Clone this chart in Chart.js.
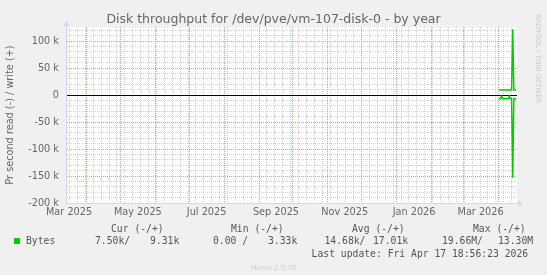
<!DOCTYPE html>
<html>
<head>
<meta charset="utf-8">
<script src="https://cdn.jsdelivr.net/npm/chart.js@4.4.1/dist/chart.umd.min.js"></script>
<style>
  html, body { margin: 0; padding: 0; background: #f0f0f0; }
  #wrap { position: relative; width: 547px; height: 275px; overflow: hidden; }
  canvas { display: block; }
  .t { position: absolute; white-space: pre; font-family: 'DejaVu Sans Mono', monospace; font-size: 9.72px; line-height: 12px; color: #555; }
  .wm { position: absolute; white-space: pre; font-family: 'DejaVu Sans', sans-serif; font-size: 6.94px; line-height: 8px; color: #c8c8c8; }
</style>
</head>
<body>
<div id="wrap">
  <canvas id="c" width="547" height="275"></canvas>
</div>
<script>
// ---------------- DATA ----------------
const rangeStart = '2025-03-13T18:56:23Z';
const rangeEnd   = '2026-04-17T18:56:23Z';

const dates = ['2026-04-02','2026-04-03','2026-04-04','2026-04-05','2026-04-06','2026-04-07','2026-04-08','2026-04-09',
               '2026-04-10','2026-04-11','2026-04-12','2026-04-13','2026-04-14','2026-04-15','2026-04-16','2026-04-17'];
// write (+), bytes per second
const writeBytes = [9300, 9300, 9300, 9300, 9300, 9300, 9300, 9300, 9300, 9300, 9300, 9300, 122000, 9300, 9300, 9310];
// read (-), plotted below zero
const readBytes = [-7000, -7000, -2000, -7000, -7000, -7000, -7000, -7000, -7000, -2000, -7000, -7000, -153000, -7000, -7000, -7500];

const yTickValues = [100000, 50000, 0, -50000, -100000, -150000, -200000];
const yTickLabels = ['100 k', '50 k', '0', '-50 k', '-100 k', '-150 k', '-200 k'];
const xLabelMonths = ['2025-03', '2025-05', '2025-07', '2025-09', '2025-11', '2026-01', '2026-03'];
const xLabelTexts  = ['Mar 2025', 'May 2025', 'Jul 2025', 'Sep 2025', 'Nov 2025', 'Jan 2026', 'Mar 2026'];

const titleText = 'Disk throughput for /dev/pve/vm-107-disk-0 - by year';
const yTitle = 'Pr second read (-) / write (+)';
const legendName = 'Bytes';
const legendHeads = ['Cur (-/+)', 'Min (-/+)', 'Avg (-/+)', 'Max (-/+)'];
const legendRead  = ['7.50k', '0.00 ', '14.68k', '19.66M'];
const legendWrite = ['9.31k', '3.33k', '17.01k', '13.30M'];
const lastUpdate = 'Last update: Fri Apr 17 18:56:23 2026';
const muninVersion = 'Munin 2.0.76';
const rrdText = 'RRDTOOL / TOBI OETIKER';

// ---------------- helpers ----------------
const DAY = 86400000;
const t0 = Date.parse(rangeStart), t1 = Date.parse(rangeEnd);
const ms = s => Date.parse(s + 'T00:00:00Z');
const yMin = -200000, yMax = 126000;

const GRID = 'rgba(143,143,143,0.38)';
const MGRID = 'rgba(222,79,79,0.6)';
const AXIS = '#CFD6F8';
const FONT = '#666666';
const GREEN = '#00CC00';

// grid ticks: monthly (major) + weekly (minor, Mondays)
const monthSet = new Set();
for (let d = new Date(Date.UTC(2025, 3, 1)); d.getTime() <= t1; d.setUTCMonth(d.getUTCMonth() + 1)) monthSet.add(d.getTime());
const weekVals = [];
for (let t = Date.UTC(2025, 2, 17); t <= t1; t += 7 * DAY) if (!monthSet.has(t)) weekVals.push(t);
const gridVals = weekVals.concat([...monthSet]).sort((a, b) => a - b);

// label ticks at middle of each labelled month
const labelTicks = xLabelMonths.map(m => {
  const [yy, mm] = m.split('-').map(Number);
  const a = Date.UTC(yy, mm - 1, 1), b = Date.UTC(yy, mm, 1);
  return (a + b) / 2;
});

const yGridVals = [];
for (let v = yMin; v <= yMax; v += 10000) yGridVals.push(v);

const frame = {
  id: 'frame',
  beforeDraw(chart) {
    const { ctx, chartArea: a } = chart;
    ctx.save();
    ctx.fillStyle = '#ffffff';
    ctx.fillRect(a.left, a.top, a.right - a.left, a.bottom - a.top);
    ctx.restore();
  },
  afterDraw(chart) {
    const { ctx, chartArea: a } = chart;
    const x0 = Math.round(a.left) + 0.5, yb = Math.round(a.bottom) + 0.5;
    ctx.save();
    ctx.strokeStyle = AXIS; ctx.fillStyle = AXIS; ctx.lineWidth = 1;
    ctx.beginPath(); ctx.moveTo(x0, a.top); ctx.lineTo(x0, a.top - 3); ctx.stroke();
    ctx.beginPath(); ctx.moveTo(x0 - 3, a.top - 1); ctx.lineTo(x0 + 3, a.top - 1); ctx.lineTo(x0, a.top - 6); ctx.closePath(); ctx.fill();
    ctx.beginPath(); ctx.moveTo(a.right, yb); ctx.lineTo(a.right + 2, yb); ctx.stroke();
    ctx.beginPath(); ctx.moveTo(a.right + 1, yb - 3); ctx.lineTo(a.right + 1, yb + 3); ctx.lineTo(a.right + 6, yb); ctx.closePath(); ctx.fill();
    ctx.restore();
  }
};

Chart.defaults.font.family = "'DejaVu Sans', sans-serif";
Chart.defaults.color = FONT;

const tickVal = c => (c && c.tick) ? c.tick.value : null;
const hiddenTicks = { display: false };
new Chart(document.getElementById('c'), {
  type: 'line',
  data: {
    datasets: [
      { label: 'write', data: dates.map((d, i) => ({ x: ms(d), y: writeBytes[i] })),
        borderColor: GREEN, borderWidth: 1.5, pointRadius: 0, tension: 0, xAxisID: 'x', yAxisID: 'y' },
      { label: 'read', data: dates.map((d, i) => ({ x: ms(d), y: readBytes[i] })),
        borderColor: GREEN, borderWidth: 1.5, pointRadius: 0, tension: 0, xAxisID: 'x', yAxisID: 'y' }
    ]
  },
  options: {
    responsive: false,
    animation: false,
    events: [],
    layout: { padding: 0 },
    plugins: {
      legend: { display: false },
      tooltip: { enabled: false },
      title: { display: true, text: titleText, color: FONT,
               font: { size: 12.5, weight: 'normal' }, padding: { top: 12, bottom: 0 } }
    },
    scales: {
      x: {
        type: 'linear', position: 'bottom', min: t0, max: t1,
        afterBuildTicks: ax => { ax.ticks = gridVals.map(v => ({ value: v })); },
        ticks: hiddenTicks,
        grid: { color: c => monthSet.has(tickVal(c)) ? MGRID : GRID, lineWidth: 1, drawTicks: false },
        border: { display: false, dash: [1, 1] },
        afterFit: s => { s.height = 0; }
      },
      xLab: {
        type: 'linear', position: 'bottom', min: t0, max: t1,
        afterBuildTicks: ax => { ax.ticks = labelTicks.map(v => ({ value: v })); },
        ticks: { autoSkip: false, maxRotation: 0, minRotation: 0, padding: 4, color: FONT, font: { size: 9.72 },
                 callback: (v, i) => xLabelTexts[i] },
        grid: { display: false, drawTicks: false },
        border: { display: true, color: AXIS, width: 1 },
        afterFit: s => { s.height = 72; }
      },
      y: {
        type: 'linear', position: 'left', min: yMin, max: yMax,
        afterBuildTicks: ax => { ax.ticks = yGridVals.map(v => ({ value: v })); },
        ticks: { autoSkip: false, padding: 7, color: FONT, font: { size: 9.72 },
                 callback: v => { const i = yTickValues.indexOf(v); return i >= 0 ? yTickLabels[i] : ''; } },
        grid: { color: c => { const v = tickVal(c); return v === 0 ? 'rgba(0,0,0,0)' : (Math.abs(v) % 50000 === 0 ? MGRID : GRID); },
                lineWidth: 1, drawTicks: false },
        border: { display: true, color: AXIS, width: 1, dash: [1, 1] },
        title: { display: true, text: yTitle, color: FONT, font: { size: 9.72 }, padding: { top: 5, bottom: 0 } },
        afterFit: s => { s.width = 66; }
      },
      yZero: {
        type: 'linear', position: 'left', min: yMin, max: yMax,
        afterBuildTicks: ax => { ax.ticks = [{ value: 0 }]; },
        ticks: hiddenTicks,
        grid: { color: '#000000', lineWidth: 1, drawTicks: false },
        border: { display: false },
        afterFit: s => { s.width = 0; }
      },
      yR: {
        type: 'linear', position: 'right', min: yMin, max: yMax,
        ticks: hiddenTicks,
        grid: { display: false, drawTicks: false },
        border: { display: false },
        afterFit: s => { s.width = 30; }
      }
    }
  },
  plugins: [frame]
});

// ---------------- legend / footer text ----------------
const wrap = document.getElementById('wrap');
function addText(cls, txt, left, top, extra) {
  const d = document.createElement('div');
  d.className = cls; d.textContent = txt;
  d.style.left = left + 'px'; d.style.top = top + 'px';
  if (extra) Object.assign(d.style, extra);
  wrap.appendChild(d);
  return d;
}
const headLeft = [111, 231, 352, 473];
const readLeft = [95, 213, 324.5, 442];
const writeLeft = [150, 268, 373, 498];
legendHeads.forEach((h, i) => addText('t', h, headLeft[i], 223));
const sq = document.createElement('div');
Object.assign(sq.style, { position: 'absolute', left: '14px', top: '238px', width: '6px', height: '6px', background: GREEN });
wrap.appendChild(sq);
addText('t', legendName, 26, 235);
legendRead.forEach((v, i) => addText('t', v + '/', readLeft[i], 235));
legendWrite.forEach((v, i) => addText('t', v, writeLeft[i], 235));
addText('t', lastUpdate, 311.6, 247.6);
addText('wm', muninVersion, 0, 263.6, { width: '547px', textAlign: 'center', color: '#cccccc' });
addText('wm', rrdText, 533.5, 14, { writingMode: 'vertical-rl', color: '#c8c8c8' });
</script>
</body>
</html>
